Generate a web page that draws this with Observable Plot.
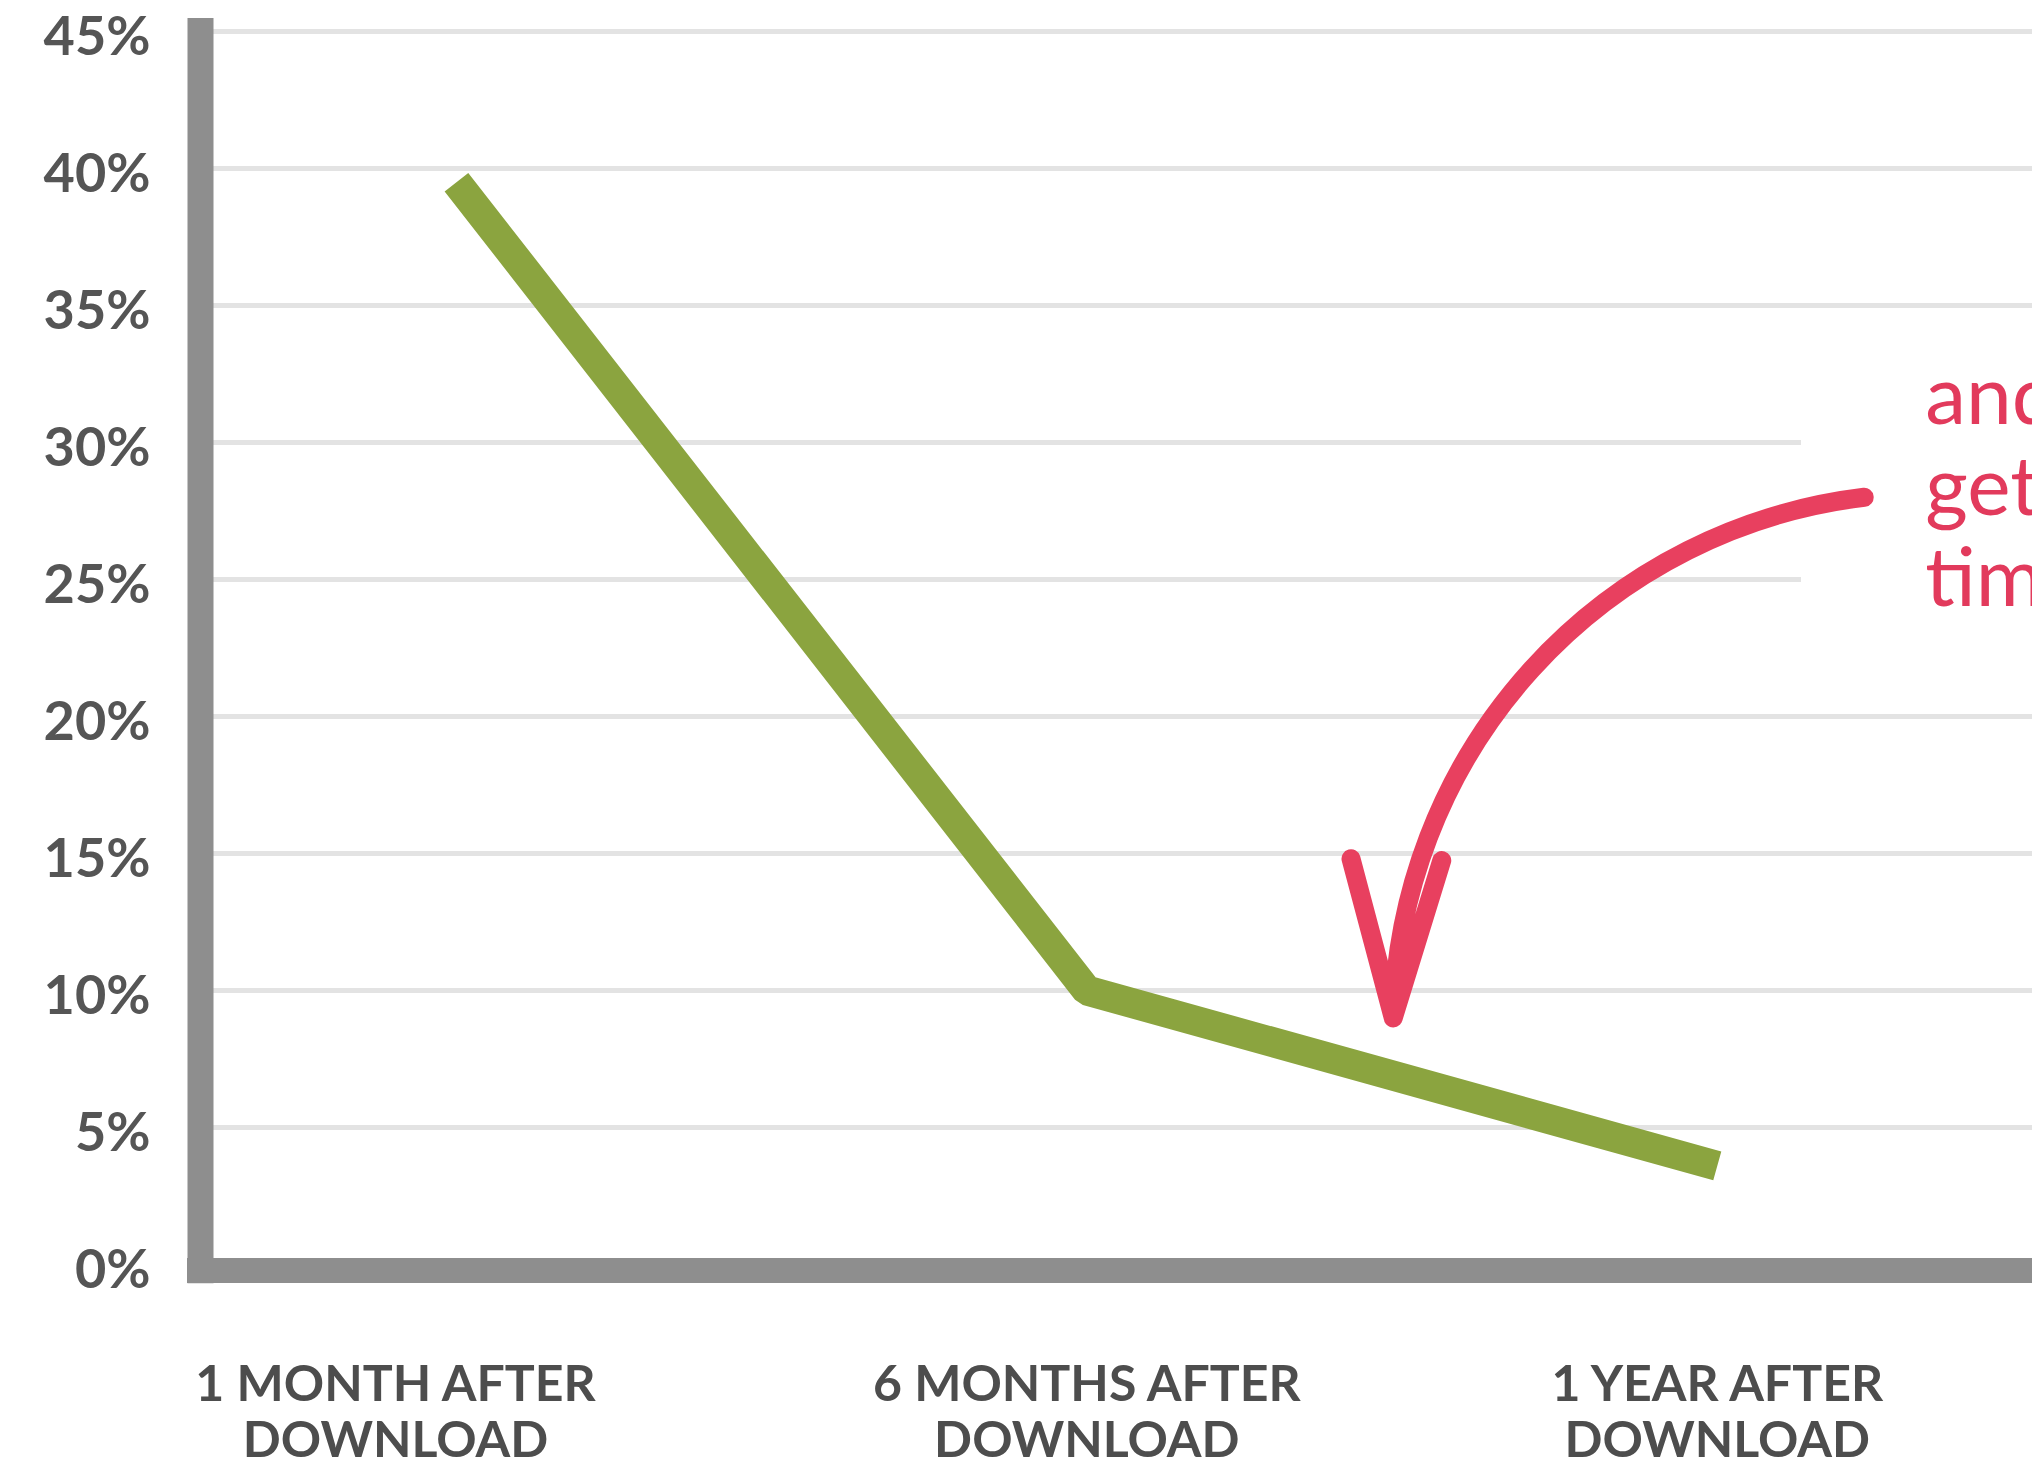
<!DOCTYPE html>
<html><head><meta charset="utf-8">
<script src="https://cdn.jsdelivr.net/npm/d3@7"></script>
<script src="https://cdn.jsdelivr.net/npm/@observablehq/plot@0.6"></script>
<style>
html,body{margin:0;padding:0;background:#fff;}
#chart svg{display:block;}
</style></head><body><div id="chart"></div>
<script>
// ---- data ----
const categories = ["1 MONTH AFTER\nDOWNLOAD", "6 MONTHS AFTER\nDOWNLOAD", "1 YEAR AFTER\nDOWNLOAD"];
const retention = [39.5, 10, 3.6];
const yTicks = [0, 5, 10, 15, 20, 25, 30, 35, 40, 45];
const fullGrid = [5, 10, 15, 20, 35, 40, 45];
const shortGrid = [25, 30];
const annotationText = ["and", "gets", "time"];
// annotation anchor points in data units (x = category index, y = percent)
const arrowStart = {x: 2.233, y: 28.0};
const arrowEnd = {x: 1.486, y: 9.0};
const textAnchor = {x: 2.33, y: 28.4};

const xDomain = [-0.406, 2.5];
const yDomain = [0, 45];
const axisTop = 45.47, axisBottom = -0.7;

const data = categories.map((c, i) => ({i, c, v: retention[i]}));

const chart = Plot.plot({
  width: 2032,
  height: 1467,
  marginLeft: 200,
  marginRight: 0,
  marginTop: 31,
  marginBottom: 203,
  style: {fontFamily: "Lato, 'Open Sans', sans-serif", background: "#fff"},
  x: {domain: xDomain},
  y: {domain: yDomain},
  marks: [
    Plot.ruleY(fullGrid, {stroke: "#e3e3e3", strokeWidth: 5}),
    Plot.ruleY(shortGrid, {stroke: "#e3e3e3", strokeWidth: 5, insetRight: 231}),
    Plot.axisY({ticks: yTicks, tickFormat: d => d + "%", tickSize: 0, tickPadding: 50,
      fontSize: 54, fontWeight: 700, color: "#555", dy: 6, label: null}),
    Plot.axisX({ticks: [0], tickFormat: i => categories[i], tickSize: 0, tickPadding: 97,
      fontSize: 50, fontWeight: 700, lineHeight: 1.12, color: "#4d4d4d", dx: -61, label: null}),
    Plot.axisX({ticks: [1, 2], tickFormat: i => categories[i], tickSize: 0, tickPadding: 97,
      fontSize: 50, fontWeight: 700, lineHeight: 1.12, color: "#4d4d4d", label: null}),
    Plot.ruleX([xDomain[0]], {y1: axisTop, y2: axisBottom, stroke: "#8e8e8e", strokeWidth: 26}),
    Plot.ruleY([0], {stroke: "#8e8e8e", strokeWidth: 25, dy: 6, insetLeft: -13}),
    Plot.line(data, {x: "i", y: "v", stroke: "#8ba43f", strokeWidth: 30,
      strokeLinecap: "butt", strokeLinejoin: "miter"}),
    Plot.arrow([{...arrowStart, x2: arrowEnd.x, y2: arrowEnd.y}], {
      x1: "x", y1: "y", x2: "x2", y2: "y2", bend: -41, headAngle: 32, headLength: 13,
      stroke: "#e8405f", strokeWidth: 19, strokeLinecap: "round", strokeLinejoin: "round"}),
    Plot.text([textAnchor], {x: "x", y: "y", text: () => annotationText.join("\n"),
      textAnchor: "start", lineAnchor: "middle", lineHeight: 1.11, fontSize: 82,
      fill: "#e23a5c", fontWeight: 400})
  ]
});
document.getElementById("chart").append(chart);
</script></body></html>
